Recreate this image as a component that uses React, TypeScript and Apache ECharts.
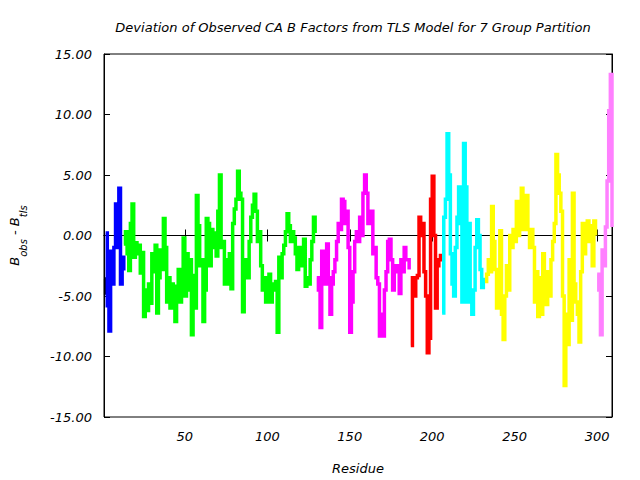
import React, { useEffect, useRef } from "react";
import * as echarts from "echarts";

const titleText = "Deviation of Observed CA B Factors from TLS Model for 7 Group Partition";
const xName = "Residue";
const xTickValues = [50, 100, 150, 200, 250, 300];
const yTickLabelsMin = -15;
const yTickLabelsMax = 15;

// residues not in a group
const blackStart = 1;
const blackValues = [-3.6, -4.9];

const blueStart = 2;
const blueValues = [0.2, -5.8, -7.9, -1.3, -4.0, -1.0, 2.6, -1.0, 3.9, -4.0, -1.8, -2.9];

const greenStart = 13;
const greenValues = [
  -0.7, 0.3, -1.5, -2.9, 1.0, 2.6, -1.8, -0.6, -1.5, -0.8,
  -3.1, -1.4, -6.7, -4.5, -6.2, -4.0, -5.6, -1.5, -3.0, -0.8,
  -6.4, -3.5, -1.2, -2.8, 1.4, -1.0, -5.5, -3.5, -6.0, -4.0,
  -5.8, -7.1, -4.2, -2.8, -5.5, -4.0, -0.2, -5.0, -1.5, -4.5,
  -2.0, -8.2, -3.3, -6.0, 3.3, 0.8, -2.5, -2.0, -7.1, -4.5,
  1.4, 1.0, -2.5, 0.5, -1.0, 0.2, -1.7, 2.0, 5.0, -1.0,
  -0.5, -4.0, -2.0, -4.0, -1.5, -4.4, 1.0, 2.2, 3.0, 5.3,
  3.5, 3.0, -6.3, -3.0, -2.0, -3.5, -0.5, 1.5, 2.5, 3.4,
  2.0, -0.5, 0.3, -2.5, -4.5, -3.5, -5.5, -4.0, -3.2, -5.5,
  -4.0, -4.5, -3.8, -8.0, -1.8, -3.5, -1.5, -0.8, 0.3, 1.8,
  0.8, -0.5, 0.3, -0.2, -1.5, -2.8, -1.0, -2.5, -1.0, -0.3,
  -4.2, -3.5, -4.0, -2.0, -0.5, 1.5, 0.2,
];

const magentaStart = 130;
const magentaValues = [
  -3.5, -4.5, -7.6, -1.3, -1.5, -4.0, -0.7, -3.5, -6.5, -4.0,
  -3.0, -2.0, -0.5, 1.0, 0.5, 3.0, 2.8, 1.0, 2.0, -1.0,
  -8.0, -5.5, -3.0, -0.5, 0.3, -0.5, 1.5, 0.0, 3.5, 5.0,
  3.5, 1.0, 1.5, 2.0, -1.5, -1.0, -3.5, -4.0, -8.3, -6.5,
  -8.3, -4.5, -3.0, -0.5, -0.3, -2.0, -4.5, -2.5, -3.0, -2.5,
  -4.8, -2.0, -3.0, -1.0, -2.0, -2.0, -2.8,
];

const redStart = 187;
const redValues = [
  -9.1, -3.5, -5.0, -3.5, -3.3, 1.5, 0.0, 1.0, -3.0, -5.0,
  -9.7, -8.5, 3.0, 4.9, 0.0, -6.0, -2.5, -2.0, -1.5,
];

const cyanStart = 206;
const cyanValues = [
  -6.4, 1.5, 3.0, 8.4, 5.0, -1.5, -4.0, -5.0, -1.0, 1.5,
  4.0, 1.0, -5.5, 7.6, 4.0, -5.5, 1.0, -5.0, -6.5, -4.5,
  -1.0, 1.3, 0.0, -2.8, -4.3, -3.5,
];

const yellowStart = 232;
const yellowValues = [
  -3.8, -3.2, -2.0, -3.0, 2.4, -0.5, -2.8, -6.0, -3.5, 0.4,
  -6.5, -8.6, -5.0, -2.5, -4.5, 0.0, -1.0, 0.5, -0.5, 2.8,
  0.0, 1.5, 3.9, 0.5, 1.5, 3.3, 0.5, -1.0, 0.5, -1.0,
  -5.5, -3.0, -6.7, -3.5, -6.5, -1.5, -4.0, -5.7, -3.0, -5.0,
  -2.0, -0.5, 1.0, 6.7, 5.0, 3.5, 2.0, -5.0, -12.4, -6.5,
  -9.0, -2.0, -7.0, 3.5, -4.0, -5.5, -6.5, -8.8, -3.0, 1.0,
  -1.5, 0.5, 1.2, -0.5, 0.8, -2.5, 1.2, 0.0,
];

const pinkStart = 300;
const pinkValues = [-3.2, -4.5, -8.2, -1.2, -2.5, 0.7, 4.5, 10.3, 13.3, 0.7];

const xMin = 1;
const xMax = 309;

const FONT = "DejaVu Sans";

function toPoints(start: number, values: number[]) {
  return values.map((v, i) => [start + i, v]);
}

export default function App() {
  const ref = useRef<HTMLDivElement>(null);
  useEffect(() => {
    if (!ref.current) return;
    const chart = echarts.init(ref.current, undefined, { renderer: "svg" });
    const groups: [number, number[], string][] = [
      [blackStart, blackValues, "#000000"],
      [blueStart, blueValues, "#0000ff"],
      [greenStart, greenValues, "#00ff00"],
      [magentaStart, magentaValues, "#ff00ff"],
      [redStart, redValues, "#ff0000"],
      [cyanStart, cyanValues, "#00ffff"],
      [yellowStart, yellowValues, "#ffff00"],
      [pinkStart, pinkValues, "#ff80ff"],
    ];
    const lineSeries = groups.map(([s, vals, c]) => ({
      type: "line",
      data: toPoints(s, vals),
      symbol: "none",
      step: "end",
      lineStyle: { color: c, width: 3.5, cap: "butt", join: "miter" },
      itemStyle: { color: c },
      xAxisIndex: 0,
      yAxisIndex: 0,
      z: 3,
    }));
    const tickStyle = { show: true, inside: true, length: 6, lineStyle: { color: "#000", width: 1 } };
    const labelFont = { fontFamily: FONT, fontStyle: "italic", fontSize: 13, color: "#000" };
    chart.setOption({
      animation: false,
      backgroundColor: "#ffffff",
      grid: { left: 94, right: 28, top: 54, bottom: 58, show: true, borderColor: "#000", borderWidth: 1, backgroundColor: "transparent" },
      xAxis: [
        {
          type: "value", min: xMin, max: xMax, position: "bottom",
          name: xName, nameLocation: "middle", nameGap: 45,
          nameTextStyle: { ...labelFont },
          axisLine: { show: true, lineStyle: { color: "#000" } },
          axisTick: { ...tickStyle, customValues: xTickValues },
          axisLabel: { ...labelFont, margin: 13, customValues: xTickValues, formatter: (v: number) => String(v) },
          splitLine: { show: false },
        },
        {
          type: "value", min: xMin, max: xMax, position: "top",
          axisLine: { show: true, lineStyle: { color: "#000" } },
          axisTick: { ...tickStyle, customValues: xTickValues },
          axisLabel: { show: false },
          splitLine: { show: false },
        },
      ],
      yAxis: [
        {
          type: "value", min: yTickLabelsMin, max: yTickLabelsMax, interval: 5, position: "left",
          name: "{b|B}{s|obs}{b| - B}{s|tls}", nameLocation: "middle", nameGap: 76, nameRotate: 90,
          nameTextStyle: {
            rich: {
              b: { fontFamily: FONT, fontStyle: "italic", fontSize: 13, color: "#000", lineHeight: 20, verticalAlign: "top" },
              s: { fontFamily: FONT, fontStyle: "italic", fontSize: 10, color: "#000", lineHeight: 10, verticalAlign: "bottom" },
            },
          },
          axisLine: { show: true, lineStyle: { color: "#000" } },
          axisTick: tickStyle,
          axisLabel: { ...labelFont, margin: 12, formatter: (v: number) => v.toFixed(2) },
          splitLine: { show: false },
        },
        {
          type: "value", min: yTickLabelsMin, max: yTickLabelsMax, interval: 5, position: "right",
          axisLine: { show: true, lineStyle: { color: "#000" } },
          axisTick: tickStyle,
          axisLabel: { show: false },
          splitLine: { show: false },
        },
      ],
      graphic: [
        {
          type: "text", x: 353, y: 27,
          style: { text: titleText, fontFamily: FONT, fontStyle: "italic", fontSize: 13, fill: "#000", textAlign: "center", textVerticalAlign: "middle" },
        },
      ],
      series: [
        {
          type: "line",
          data: [[xMin, 0], [xMax, 0]],
          symbol: "none",
          lineStyle: { color: "#000", width: 1 },
          z: 2,
          silent: true,
        },
        ...lineSeries,
      ],
    });
    return () => chart.dispose();
  }, []);
  return <div ref={ref} style={{ width: 640, height: 480, position: "absolute", left: 0, top: 0 }} />;
}
